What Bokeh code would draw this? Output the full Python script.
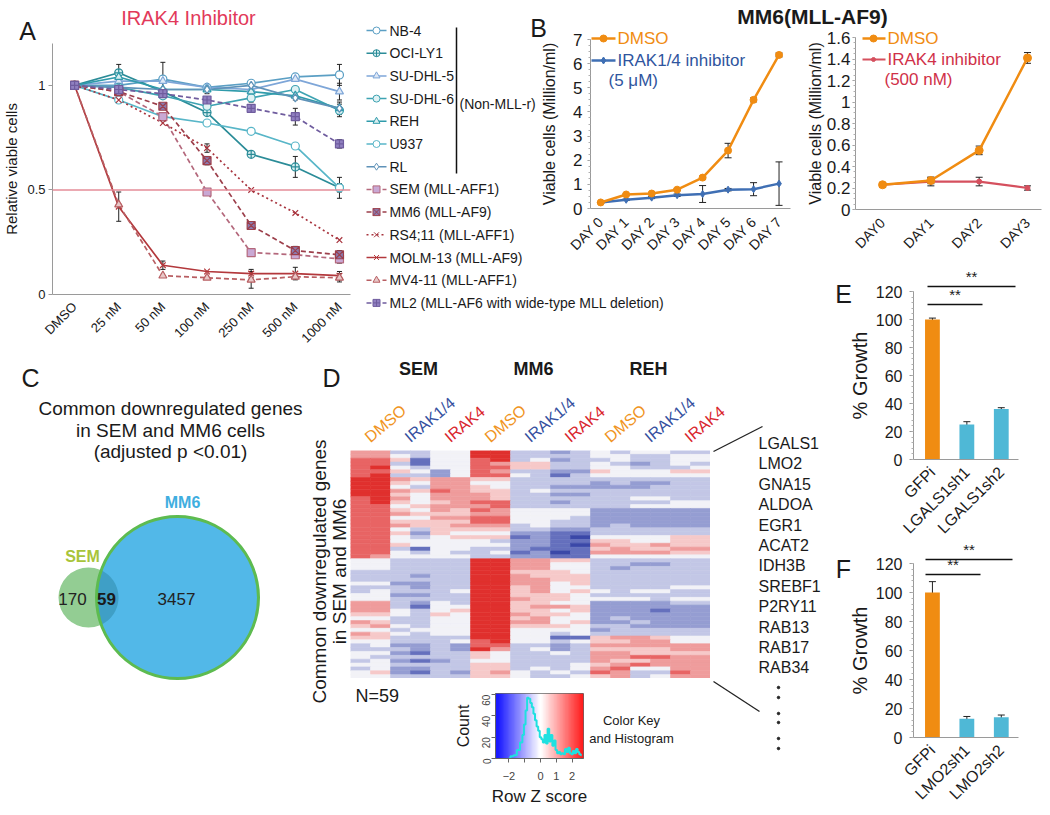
import math
import numpy as np
from bokeh.plotting import figure
from bokeh.models import (Range1d, ColumnDataSource, Whisker, TeeHead, Span,
                          LinearColorMapper, FixedTicker, NumeralTickFormatter)
from bokeh.core.properties import value
from bokeh.embed import file_html
from bokeh.resources import INLINE

FONT = "Liberation Sans"

# ===================== DATA =====================
# ---- Panel A: relative viable cells vs IRAK4 inhibitor dose ----
doses = ["DMSO", "25 nM", "50 nM", "100 nM", "250 nM", "500 nM", "1000 nM"]
a_cell_lines = ["NB-4", "OCI-LY1", "SU-DHL-5", "SU-DHL-6", "REH", "U937", "RL",
                "SEM", "MM6", "RS4;11", "MOLM-13", "MV4-11", "ML2"]
a_subtypes = ["", "", "", "", "", "", "",
              "(MLL-AFF1)", "(MLL-AF9)", "(MLL-AFF1)", "(MLL-AF9)", "(MLL-AFF1)",
              "(MLL-AF6 with wide-type MLL deletion)"]
nb4 = [1.00, 1.00, 1.03, 0.99, 1.01, 1.04, 1.05]
oci_ly1 = [1.00, 1.06, 0.97, 0.87, 0.67, 0.61, 0.51]
su_dhl5 = [1.00, 1.02, 1.02, 0.99, 0.98, 1.03, 0.97]
su_dhl6 = [1.00, 0.99, 0.95, 0.90, 0.94, 0.98, 0.88]
reh = [1.00, 1.04, 0.98, 0.98, 0.97, 0.95, 0.89]
u937 = [1.00, 0.93, 0.85, 0.82, 0.78, 0.71, 0.51]
rl = [1.00, 0.99, 0.98, 0.98, 1.00, 0.94, 0.89]
sem = [1.00, 0.97, 0.85, 0.49, 0.20, 0.19, 0.17]
mm6 = [1.00, 0.97, 0.90, 0.64, 0.33, 0.21, 0.19]
rs4_11 = [1.00, 0.93, 0.82, 0.70, 0.50, 0.39, 0.26]
molm13 = [1.00, 0.42, 0.14, 0.11, 0.10, 0.10, 0.09]
mv4_11 = [1.00, 0.43, 0.09, 0.08, 0.07, 0.085, 0.08]
ml2 = [1.00, 0.98, 0.96, 0.93, 0.89, 0.85, 0.72]
a_values = [nb4, oci_ly1, su_dhl5, su_dhl6, reh, u937, rl,
            sem, mm6, rs4_11, molm13, mv4_11, ml2]
a_errors = [
    [0, 0, 0.08, 0, 0, 0, 0.05],
    [0, 0.04, 0, 0, 0, 0.05, 0.02],
    [0, 0, 0, 0, 0, 0, 0.04],
    [0, 0, 0, 0.02, 0.02, 0, 0.03],
    [0, 0, 0, 0, 0, 0.02, 0.03],
    [0, 0, 0, 0, 0, 0, 0.05],
    [0, 0.02, 0, 0.02, 0, 0, 0],
    [0, 0, 0, 0, 0, 0, 0.02],
    [0, 0, 0, 0.02, 0, 0.02, 0.02],
    [0, 0, 0, 0.02, 0, 0, 0],
    [0, 0.07, 0.02, 0, 0.02, 0.03, 0.02],
    [0, 0, 0, 0, 0.04, 0, 0.02],
    [0, 0, 0, 0, 0, 0.04, 0.02],
]
a_half_max = 0.5

# ---- Panel B: MM6 growth ----
b1_days = ["DAY 0", "DAY 1", "DAY 2", "DAY 3", "DAY 4", "DAY 5", "DAY 6", "DAY 7"]
b1_dmso = [0.25, 0.58, 0.62, 0.78, 1.28, 2.40, 4.50, 6.36]
b1_dmso_err = [0.02, 0.03, 0.03, 0.04, 0.06, 0.30, 0.08, 0.08]
b1_irak14 = [0.25, 0.36, 0.45, 0.55, 0.60, 0.78, 0.80, 1.03]
b1_irak14_err = [0.03, 0.03, 0.04, 0.05, 0.35, 0.05, 0.27, 0.90]
b2_days = ["DAY0", "DAY1", "DAY2", "DAY3"]
b2_dmso = [0.23, 0.27, 0.55, 1.41]
b2_dmso_err = [0.02, 0.03, 0.04, 0.05]
b2_irak4 = [0.23, 0.26, 0.26, 0.20]
b2_irak4_err = [0.02, 0.04, 0.04, 0.02]

# ---- Panel C: Venn counts ----
venn_sets = ["SEM", "MM6"]
venn_counts = [170, 59, 3457]   # SEM only, both, MM6 only

# ---- Panel D: heatmap (level codes 0..8, z = (level-4)*0.6) ----
heat_groups = ["SEM", "MM6", "REH"]
heat_treatments = ["DMSO", "IRAK1/4", "IRAK4"]
heat_rows = [
    "663344883323434433", "664344883333443344", "775144783423343344",
    "773144765533432343", "784344775533443334", "775424763322544455",
    "783324774313444444", "886566553333333333", "885466443333232233",
    "884366543322222333", "886576553433333333", "885466653322333333",
    "786466653333334433", "785456773323333344", "774566673333334444",
    "775465764444222222", "776555664444222222", "774466774443222222",
    "775555774433222222", "776556663433232222", "774355553322333333",
    "775254442211333333", "774345551210444455", "774444432211554455",
    "775444442210655655", "773144332111565566", "774343341201666655",
    "764444332211444444",
    "443333886655333333", "443333886644332233", "443333886644323333",
    "333333885554333333", "333233886555333333", "333333886655333333",
    "442233886645333333", "333233885644333344", "343334885645434433",
    "442233885554333333", "443333886554444344", "663243885544222233",
    "663144885665222222", "664345885545222122", "554354886554222222",
    "443344885644232222", "653344886645223222", "564344885554332222",
    "443444884444233333", "654344884434333333", "553333884411566544",
    "443334784434556644", "342232773323666666", "333232863423555566",
    "442133543343665555", "433333543333667766", "342123443333655666",
    "443333553334567666", "342233553434674466", "452132564343763376",
    "443333554334563466",
]
genes = ["LGALS1", "LMO2", "GNA15", "ALDOA", "EGR1", "ACAT2", "IDH3B",
         "SREBF1", "P2RY11", "RAB13", "RAB17", "RAB34"]
hist_z = [-2.0, -1.8, -1.6, -1.4, -1.2, -1.1, -1.0, -0.9, -0.8, -0.7, -0.6, -0.5,
          -0.4, -0.3, -0.2, -0.1, 0.0, 0.1, 0.2, 0.3, 0.4, 0.5, 0.6, 0.7, 0.8,
          0.9, 1.0, 1.1, 1.2, 1.3, 1.4, 1.5, 1.6, 1.7, 1.8, 1.9, 2.0, 2.1, 2.2,
          2.3, 2.4, 2.5, 2.6]
hist_count = [0, 2, 3, 8, 15, 22, 32, 45, 57, 56, 52, 48, 42, 36, 30, 26, 20, 18,
              15, 22, 14, 28, 16, 22, 12, 17, 8, 5, 6, 4, 5, 4, 9, 6, 10, 5, 4,
              7, 5, 9, 6, 4, 3]

# ---- Panels E / F ----
e_labels = ["GFPi", "LGALS1sh1", "LGALS1sh2"]
e_values = [100, 25, 36]
e_errors = [1, 2, 1]
f_labels = ["GFPi", "LMO2sh1", "LMO2sh2"]
f_values = [100, 13, 14]
f_errors = [7.5, 1.5, 1.5]

# ===================== STYLES =====================
a_colors = ["#5b9fc4", "#2b8c98", "#7ea6d8", "#3ea3b2", "#2f9bab", "#58b6c8", "#5f92b8",
            "#b4687c", "#9c3f4b", "#a8343e", "#b3383c", "#b85e62", "#6f5c9e"]
a_marker_fill = ["white", "#d8eef0", "#dde8f6", "#e0f2f4", "#d9eef0", "white", "white",
                 "#c9a8d4", "#8a7ab0", "#f0d0d8", "#e8c0c8", "#e8c8c8", "#9080c0"]
a_markers = ["circle", "circle_cross", "triangle", "circle", "triangle", "circle", "diamond",
             "square", "square_x", "x", "x", "triangle", "square_cross"]
a_dash = ["solid"] * 7 + ["5 3", "5 3", "2 3", "solid", "5 3", "5 3"]
ORANGE = "#f08c12"
BLUE = "#3f6fb4"
RED = "#d5505e"
BAR_BLUE = "#4fb8d6"
heat_palette = ["#3b48a8", "#6570bd", "#959dd2", "#c3c7e6", "#f2f2f7",
                "#f6c9c9", "#ef9c9c", "#e86464", "#e0302e"]
treat_colors = ["#f0941e", "#3550a0", "#d9262e"]

BG_W, BG_H = 1048, 813


def Y(v):
    return BG_H - v


def place(fig, x, y):
    # page coordinates (top-left of the figure canvas)
    fig.styles = {"position": "absolute", "left": f"{x}px", "top": f"{y}px"}


def style_fig(p, label_size="13px"):
    for ax in p.axis:
        ax.major_label_text_font = FONT
        ax.major_label_text_font_size = label_size
        ax.major_label_text_color = "#1a1a1a"
        ax.axis_label_text_font = FONT
        ax.axis_label_text_font_style = "normal"
        ax.axis_label_text_color = "#1a1a1a"
        ax.axis_line_color = "#9a9a9a"
        ax.major_tick_line_color = "#9a9a9a"
        ax.minor_tick_line_color = "#b0b0b0"
        ax.major_tick_in = 0
        ax.minor_tick_in = 0
        ax.minor_tick_out = 2
    p.xgrid.visible = False
    p.ygrid.visible = False
    p.outline_line_color = None
    p.background_fill_alpha = 0
    p.border_fill_alpha = 0


def add_err(p, xs, ys, errs, color="#222", head=6):
    pts = [(x, y, e) for x, y, e in zip(xs, ys, errs) if e > 0]
    if not pts:
        return
    src = ColumnDataSource(dict(x=[q[0] for q in pts],
                                upper=[q[1] + q[2] for q in pts],
                                lower=[q[1] - q[2] for q in pts]))
    w = Whisker(source=src, base="x", upper="upper", lower="lower",
                line_color=color, line_width=1,
                upper_head=TeeHead(size=head, line_color=color, line_width=1),
                lower_head=TeeHead(size=head, line_color=color, line_width=1))
    p.add_layout(w)


# ===================== BACKGROUND (text / decorations) =====================
bg = figure(width=BG_W, height=BG_H, x_range=Range1d(0, BG_W), y_range=Range1d(0, BG_H),
            x_axis_type=None, y_axis_type=None, min_border=0, title=None,
            output_backend="svg", toolbar_location=None)
bg.grid.visible = False
bg.outline_line_color = None


def txt(x, y, s, size, color="#1a1a1a", align="left", baseline="middle", angle=0.0,
        style="normal"):
    bg.text(x=[x], y=[Y(y)], text=[s], text_font=value(FONT),
            text_font_size=value(f"{size}px"), text_color=color, text_align=align,
            text_baseline=baseline, angle=angle, text_font_style=style)


# panel letters
for letter, lx, ly in [("A", 27, 30), ("B", 538, 27), ("C", 30, 377), ("D", 331, 377),
                       ("E", 843, 293), ("F", 843, 568)]:
    txt(lx, ly, letter, 25, align="center")

# Panel A title and legend
txt(188, 17, "IRAK4 Inhibitor", 20, color="#e2395a", align="center")
for i, name in enumerate(a_cell_lines):
    yy = 30 + i * 22.7
    bg.line([366, 386], [Y(yy), Y(yy)], line_color=a_colors[i], line_width=1.5,
            line_dash=a_dash[i])
    bg.scatter([376], [Y(yy)], marker=a_markers[i], size=7, fill_color=a_marker_fill[i],
               line_color=a_colors[i], line_width=1)
    label = name if not a_subtypes[i] else f"{name} {a_subtypes[i]}"
    txt(389, yy, label, 14)
bg.segment([456], [Y(27)], [456], [Y(173)], line_color="#111", line_width=1.5)
txt(459, 103, "(Non-MLL-r)", 14)

# Panel B titles & legends
txt(812, 16, "MM6(MLL-AF9)", 21, align="center", style="bold")
bg.line([591, 615], [Y(38), Y(38)], line_color=ORANGE, line_width=2.5)
bg.scatter([603], [Y(38)], marker="circle", size=7, color=ORANGE)
txt(617, 38, "DMSO", 17, color=ORANGE)
bg.line([591, 615], [Y(60), Y(60)], line_color=BLUE, line_width=2.5)
bg.scatter([603], [Y(60)], marker="diamond", size=7, color=BLUE)
txt(617, 60, "IRAK1/4 inhibitor", 17, color="#2f559e")
txt(608, 80, "(5 \u03bcM)", 17, color="#2f559e")
bg.line([862, 885], [Y(38), Y(38)], line_color=ORANGE, line_width=2.5)
bg.scatter([873], [Y(38)], marker="circle", size=7, color=ORANGE)
txt(887, 38, "DMSO", 17, color=ORANGE)
bg.line([862, 885], [Y(59), Y(59)], line_color=RED, line_width=2)
bg.scatter([873], [Y(59)], marker="circle", size=4, color=RED)
txt(887, 59, "IRAK4 inhibitor", 17, color="#d03048")
txt(884, 79, "(500 nM)", 17, color="#d03048")

# Panel C: title + Venn
for k, line in enumerate(["Common downregulated genes", "in SEM and MM6 cells",
                          "(adjusted p <0.01)"]):
    txt(170, 408 + k * 21.5, line, 19, align="center")
c1x, c1y, r1 = 88, 597, 30      # SEM circle (layout)
c2x, c2y, r2 = 177, 597, 81     # MM6 circle (layout)
bg.circle(x=[c1x], y=[Y(c1y)], radius=r1, fill_color="#93cd93", line_color=None)
bg.circle(x=[c2x], y=[Y(c2y)], radius=r2, fill_color="#52b8e8", line_color=None)
dd = c2x - c1x
aa = (dd * dd + r1 * r1 - r2 * r2) / (2 * dd)
hh = math.sqrt(r1 * r1 - aa * aa)
t1 = math.atan2(hh, aa)
t2 = math.atan2(hh, dd - aa)
ang1 = np.linspace(-t1, t1, 40)
ang2 = np.linspace(math.pi - t2, math.pi + t2, 40)
lens_x = [c1x + r1 * math.cos(t) for t in ang1] + [c2x + r2 * math.cos(t) for t in ang2]
lens_y = [Y(c1y + r1 * math.sin(t)) for t in ang1] + [Y(c2y + r2 * math.sin(t)) for t in ang2]
bg.patch(lens_x, lens_y, fill_color="#3f9fc6", line_color=None)
bg.circle(x=[c2x], y=[Y(c2y)], radius=r2, fill_color=None, line_color="#5dbb50",
          line_width=3)
txt(82, 556, venn_sets[0], 16, color="#a8c43a", align="center", style="bold")
txt(182, 502, venn_sets[1], 16, color="#40aee0", align="center", style="bold")
txt(72, 598, str(venn_counts[0]), 17, color="#222", align="center")
txt(106, 598, str(venn_counts[1]), 17, color="#1a1a1a", align="center", style="bold")
txt(176, 598, str(venn_counts[2]), 17, color="#222", align="center")

# Panel D decorations
for g, (gname, gx) in enumerate(zip(heat_groups, [418, 533, 648])):
    txt(gx, 368, gname, 18, align="center", style="bold")
    for t, tname in enumerate(heat_treatments):
        cx = 350 + (6 * g + 2 * t + 1) * 20 + 2
        txt(cx, 445, tname, 16, color=treat_colors[t], align="left", baseline="bottom",
            angle=math.radians(40))
txt(319, 571, "Common downregulated genes", 19, align="center", angle=math.pi / 2)
txt(339, 571, "in SEM and MM6", 19, align="center", angle=math.pi / 2)
txt(355, 695, "N=59", 18)
for i, gname in enumerate(genes):
    txt(758, 443 + i * 20.4, gname, 16)
bg.scatter([778] * 6, [Y(v) for v in [687, 697, 713, 722, 738, 748]], marker="circle",
           size=2.5, color="#222")
bg.segment([713, 713], [Y(451), Y(681)], [762, 759], [Y(426), Y(711)],
           line_color="#222", line_width=1.3)
txt(631, 720, "Color Key", 13, align="center")
txt(631, 738, "and Histogram", 13, align="center")

# Panels E/F significance bars
for (x0, x1, yl, ys) in [(927, 1015, 286, 282), (927, 982, 304, 300),
                         (925, 1012, 559, 555), (925, 980, 574, 570)]:
    bg.segment([x0], [Y(yl)], [x1], [Y(yl)], line_color="#111", line_width=1.3)
    txt((x0 + x1) / 2, ys + 2, "**", 15, align="center", baseline="bottom")

# ===================== PANEL A =====================
pA = figure(width=356, height=353, x_range=Range1d(-0.5, 6.25), y_range=Range1d(0, 1.2),
            min_border_left=52, min_border_right=6, min_border_top=43, min_border_bottom=56,
            title=None, output_backend="svg", toolbar_location=None)
style_fig(pA, "13px")
xs = list(range(len(doses)))
pA.add_layout(Span(location=a_half_max, dimension="width", line_color="#e48c98",
                   line_width=1.5))
for i in range(len(a_cell_lines)):
    pA.line(xs, a_values[i], line_color=a_colors[i], line_width=1.7,
            line_dash=a_dash[i])
for i in range(len(a_cell_lines)):
    add_err(pA, xs, a_values[i], a_errors[i], head=5)
    pA.scatter(xs, a_values[i], marker=a_markers[i], size=8, fill_color=a_marker_fill[i],
               line_color=a_colors[i], line_width=1.2)
pA.xaxis.ticker = FixedTicker(ticks=xs)
pA.xaxis.major_label_overrides = {i: d for i, d in enumerate(doses)}
pA.xaxis.major_label_orientation = math.pi / 4
pA.xaxis.major_tick_line_color = None
pA.xaxis.major_label_standoff = 4
pA.yaxis.ticker = FixedTicker(ticks=[0, 0.5, 1])
pA.yaxis.formatter = NumeralTickFormatter(format="0.[0]")
pA.yaxis.axis_label = "Relative viable cells"
pA.yaxis.axis_label_text_font_size = "15px"
pA.yaxis.major_tick_out = 4
pA.yaxis.major_label_standoff = 3
pA.yaxis.axis_label_standoff = 4
place(pA, 0, 0)

# ===================== PANEL B =====================
pB1 = figure(width=257, height=245, x_range=Range1d(-0.4, 7.45), y_range=Range1d(0, 7),
             min_border_left=49, min_border_right=5, min_border_top=14, min_border_bottom=62,
             title=None, output_backend="svg", toolbar_location=None)
style_fig(pB1, "17px")
x1 = list(range(len(b1_days)))
pB1.line(x1, b1_irak14, line_color=BLUE, line_width=2.5)
add_err(pB1, x1, b1_irak14, b1_irak14_err, head=7)
pB1.scatter(x1, b1_irak14, marker="diamond", size=7, color=BLUE)
pB1.line(x1, b1_dmso, line_color=ORANGE, line_width=2.5)
add_err(pB1, x1, b1_dmso, b1_dmso_err, head=7)
pB1.scatter(x1, b1_dmso, marker="circle", size=7, color=ORANGE)
pB1.xaxis.ticker = FixedTicker(ticks=x1)
pB1.xaxis.major_label_overrides = {i: d for i, d in enumerate(b1_days)}
pB1.xaxis.major_label_orientation = math.pi / 4
pB1.xaxis.major_label_text_font_size = "14px"
pB1.xaxis.major_tick_line_color = None
pB1.yaxis.ticker = FixedTicker(ticks=list(range(8)),
                               minor_ticks=[k * 0.25 for k in range(29)])
pB1.yaxis.axis_label = "Viable cells (Million/ml)"
pB1.yaxis.axis_label_text_font_size = "16px"
pB1.yaxis.major_tick_out = 3
pB1.yaxis.major_label_standoff = 5
pB1.yaxis.axis_label_standoff = 12
place(pB1, 538, 25)

pB2 = figure(width=245, height=245, x_range=Range1d(-0.56, 3.29), y_range=Range1d(0, 1.6),
             min_border_left=55, min_border_right=4, min_border_top=12, min_border_bottom=61,
             title=None, output_backend="svg", toolbar_location=None)
style_fig(pB2, "17px")
x2 = list(range(len(b2_days)))
pB2.line(x2, b2_irak4, line_color=RED, line_width=2.2)
add_err(pB2, x2, b2_irak4, b2_irak4_err, head=7)
pB2.scatter(x2, b2_irak4, marker="circle", size=5, color=RED)
pB2.line(x2, b2_dmso, line_color=ORANGE, line_width=2.5)
add_err(pB2, x2, b2_dmso, b2_dmso_err, head=7)
pB2.scatter(x2, b2_dmso, marker="circle", size=8, color=ORANGE)
pB2.xaxis.ticker = FixedTicker(ticks=x2)
pB2.xaxis.major_label_overrides = {i: d for i, d in enumerate(b2_days)}
pB2.xaxis.major_label_orientation = math.pi / 4
pB2.xaxis.major_label_text_font_size = "14px"
pB2.xaxis.major_tick_line_color = None
pB2.yaxis.ticker = FixedTicker(ticks=[0, 0.2, 0.4, 0.6, 0.8, 1.0, 1.2, 1.4, 1.6],
                               minor_ticks=[k * 0.05 for k in range(33)])
pB2.yaxis.formatter = NumeralTickFormatter(format="0.[0]")
pB2.yaxis.axis_label = "Viable cells (Million/ml)"
pB2.yaxis.axis_label_text_font_size = "16px"
pB2.yaxis.major_tick_out = 3
pB2.yaxis.major_label_standoff = 2
pB2.yaxis.axis_label_standoff = 0
place(pB2, 800, 25)

# ===================== PANEL D heatmap =====================
n_rows = len(heat_rows)
n_cols = 18
hx, hy, hz = [], [], []
for r, s in enumerate(heat_rows):
    s = (s + "4" * n_cols)[:n_cols]
    for c, ch in enumerate(s):
        hx.append(c + 0.5)
        hy.append(n_rows - r - 0.5)
        hz.append((int(ch) - 4) * 0.6)
heat_src = ColumnDataSource(dict(x=hx, y=hy, z=hz))
heat_mapper = LinearColorMapper(palette=heat_palette, low=-2.7, high=2.7)
pD = figure(width=360, height=228, x_range=Range1d(0, n_cols), y_range=Range1d(0, n_rows),
            x_axis_type=None, y_axis_type=None, min_border=0, title=None,
            output_backend="svg", toolbar_location=None)
pD.rect(x="x", y="y", width=1, height=1, source=heat_src,
        fill_color={"field": "z", "transform": heat_mapper},
        line_color={"field": "z", "transform": heat_mapper}, line_width=0.6)
pD.grid.visible = False
pD.outline_line_color = None
pD.background_fill_alpha = 0
pD.border_fill_alpha = 0
place(pD, 350, 450)

# color key + histogram
pK = figure(width=143, height=124, x_range=Range1d(-2.85, 2.72), y_range=Range1d(0, 61),
            min_border_left=45, min_border_right=10, min_border_top=5, min_border_bottom=54,
            title=None, output_backend="svg", toolbar_location=None)
style_fig(pK, "11px")


def _interp(c0, c1, t):
    a = [int(c0[i:i + 2], 16) for i in (1, 3, 5)]
    b = [int(c1[i:i + 2], 16) for i in (1, 3, 5)]
    return "#" + "".join(f"{int(round(a[k] + (b[k] - a[k]) * t)):02x}" for k in range(3))


key_palette = ([_interp("#1a1aff", "#ffffff", k / 49) for k in range(50)] +
               [_interp("#ffffff", "#ff1a1a", k / 49) for k in range(50)])
key_mapper = LinearColorMapper(palette=key_palette, low=-2.72, high=2.72)
grad = np.linspace(-2.85, 2.72, 160).reshape(1, -1)
pK.image(image=[grad], x=-2.85, y=0, dw=5.57, dh=61, color_mapper=key_mapper)
pK.step(hist_z, hist_count, mode="center", line_color="#1fe0e0", line_width=2)
pK.outline_line_color = "#666"
pK.xaxis.ticker = FixedTicker(ticks=[-2, -1, 0, 1, 2])
pK.xaxis.major_label_overrides = {-1: ""}
pK.xaxis.major_label_standoff = 9
pK.xaxis.axis_label = "Row Z score"
pK.xaxis.axis_label_text_font_size = "17px"
pK.xaxis.axis_label_standoff = 4
pK.yaxis.ticker = FixedTicker(ticks=[0, 20, 40, 60])
pK.yaxis.major_label_orientation = math.pi / 2
pK.yaxis.major_label_text_font_size = "10px"
pK.yaxis.axis_label = "Count"
pK.yaxis.axis_label_text_font_size = "16px"
pK.yaxis.axis_label_standoff = 4
for ax in pK.axis:
    ax.major_label_text_color = "#444"
    ax.axis_line_color = "#666"
    ax.major_tick_line_color = "#666"
    ax.major_tick_out = 4
place(pK, 450, 688)


# ===================== PANELS E & F =====================
def bar_panel(labels, vals, errs, height, bottom):
    p = figure(width=180, height=height, x_range=Range1d(-0.55, 2.5), y_range=Range1d(0, 120),
               min_border_left=68, min_border_right=7, min_border_top=8,
               min_border_bottom=bottom, title=None, output_backend="svg",
               toolbar_location=None)
    style_fig(p, "16px")
    xb = list(range(len(labels)))
    p.vbar(x=xb, top=vals, width=0.43, fill_color=[ORANGE] + [BAR_BLUE] * (len(xb) - 1),
           line_color=None)
    add_err(p, xb, vals, errs, head=7)
    p.xaxis.ticker = FixedTicker(ticks=xb)
    p.xaxis.major_label_overrides = {i: s for i, s in enumerate(labels)}
    p.xaxis.major_label_orientation = math.pi / 4
    p.xaxis.major_tick_line_color = None
    p.xaxis.major_label_standoff = 4
    p.yaxis.ticker = FixedTicker(ticks=list(range(0, 121, 20)),
                                 minor_ticks=list(range(0, 121, 4)))
    p.yaxis.axis_label = "% Growth"
    p.yaxis.axis_label_text_font_size = "20px"
    p.yaxis.major_tick_out = 4
    p.yaxis.major_label_standoff = 7
    p.yaxis.axis_label_standoff = 2
    return p


pE = bar_panel(e_labels, e_values, e_errors, 267, 91)
place(pE, 845, 283)
pF = bar_panel(f_labels, f_values, f_errors, 256, 74)
place(pF, 845, 555)

place(bg, 0, 0)
roots = [bg, pA, pB1, pB2, pD, pK, pE, pF]

open("out.html", "w").write(file_html(roots, INLINE))
